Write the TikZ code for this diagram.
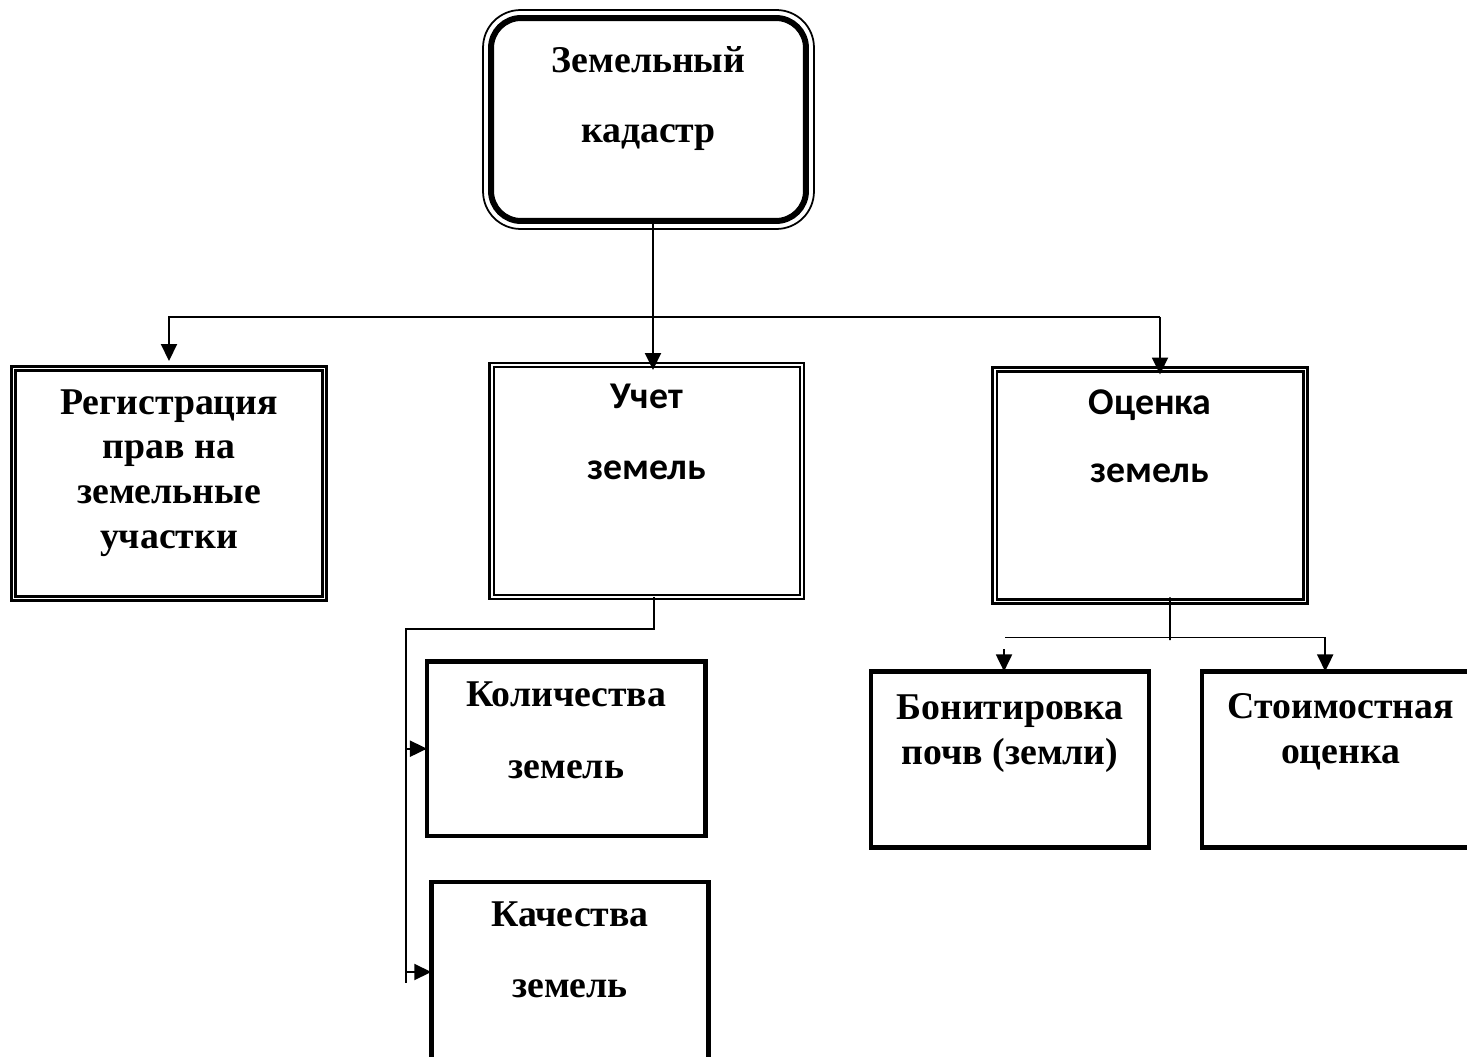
\documentclass[tikz,border=0pt]{standalone}
\usepackage{fontspec}
\setmainfont{Liberation Serif}
\newfontfamily\calibri{Carlito}
\usetikzlibrary{arrows.meta}

% box text: width, height, first baseline, lines
\newcommand{\inbox}[4]{\parbox[c][#2][t]{#1}{\centering\rule{0pt}{#3}#4}}

\tikzset{
  dbl/.style={draw, double, line width=1.3pt, double distance=1.1pt, inner sep=0pt, outer sep=0pt},
  sgl/.style={draw, line width=2.55pt, inner sep=0pt, outer sep=0pt},
  ln/.style={line width=1.1pt},
  arr/.style={line width=1.1pt, -{Triangle[length=0.34cm,width=0.32cm]}}
}

\begin{document}
\begin{tikzpicture}[x=0.02cm, y=-0.02cm, font=\fontsize{21.5}{25.5}\selectfont\bfseries]
\useasboundingbox (0,0) rectangle (1467,1057);
\clip (0,0) rectangle (1467,1057);

% top
\node[draw, line width=3.4pt, rounded corners=0.6cm, inner sep=0pt, outer sep=0pt] (kadastr) at (648.5,119.5)
  {\inbox{6.3cm}{4.06cm}{1.08cm}{Земельный\\[0.52cm]кадастр}};
\draw[line width=1pt, rounded corners=0.75cm] ([shift={(-8,-8)}]kadastr.north west) rectangle ([shift={(8,8)}]kadastr.south east);

% second row
\node[dbl] (reg) at (169,483.5) {\inbox{6.22cm}{4.6cm}{0.91cm}{Регистрация\\прав на\\земельные\\участки}};
\node[dbl] (uchet) at (646.75,481) {\inbox{6.21cm}{4.64cm}{0.86cm}{\calibri Учет\\[0.54cm]земель}};
\node[dbl] (ocenka) at (1150,485.5) {\inbox{6.22cm}{4.64cm}{0.89cm}{\calibri Оценка\\[0.47cm]земель}};

% third row
\node[sgl] (kol) at (566.2,748.7) {\inbox{5.57cm}{3.49cm}{0.91cm}{Количества\\[0.53cm]земель}};
\node[sgl] (kach) at (570,972) {\inbox{5.55cm}{3.6cm}{0.89cm}{Качества\\[0.53cm]земель}};
\node[sgl] (bonit) at (1010,759.4) {\inbox{5.57cm}{3.52cm}{0.97cm}{Бонитировка\\почв (земли)}};
\node[sgl] (stoim) at (1340.7,759.4) {\inbox{5.56cm}{3.52cm}{0.94cm}{Стоимостная\\оценка}};

% connectors from top
\coordinate (bus) at (653,317);
\coordinate (oc) at ([xshift=0.2cm]ocenka.north);
\draw[arr] (kadastr.south -| bus) -- ([yshift=-0.1cm]uchet.north -| bus);
\draw[arr] (oc |- bus) -- (reg.north |- bus) -- ([yshift=0.15cm]reg.north);
\draw[arr] (oc |- bus) -- ([yshift=-0.1cm]oc);

% uchet
\coordinate (ua) at ([xshift=0.14cm]uchet.south);
\coordinate (ub) at (406,629);
\coordinate (uend) at (406,983);
\draw[ln] (ua) -- (ua |- ub) -- (ub) -- (uend);
\draw[arr] (kol.west -| ub) -- (kol.west);
\draw[arr] (kach.west -| ub) -- (kach.west);

% ocenka
\coordinate (oa) at ([xshift=0.4cm]ocenka.south);
\coordinate (ob) at (1170,640);
\coordinate (bl) at (1005,637.5);
\coordinate (sr) at ([xshift=-0.31cm]stoim.north);
\coordinate (bn) at ([xshift=-0.12cm]bonit.north);
\coordinate (bt) at (1004,649);
\draw[ln] ([yshift=0.08cm]oa) -- (ob);
\draw[arr] (bl) -- (sr |- bl) -- (sr);
\draw[arr] (bt) -- (bn);
\end{tikzpicture}
\end{document}
